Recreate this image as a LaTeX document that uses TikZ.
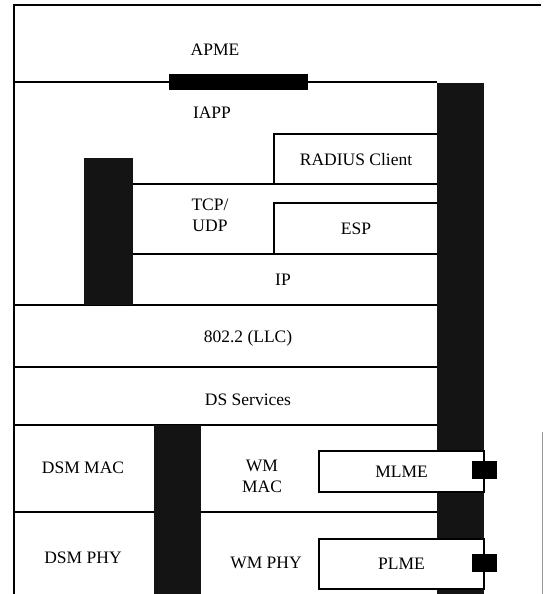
\documentclass[tikz,border=0pt]{standalone}
\usepackage{fontspec}
\setmainfont{Liberation Serif}
\tikzset{
  layer/.style={font=\fontsize{17.5}{21}\selectfont, align=center, inner sep=0pt},
  bus/.style={fill=black!92},
  tap/.style={fill=black, draw=none, inner sep=0pt, minimum width=25pt, minimum height=18pt},
  mgmtbox/.style={draw, fill=white, line width=1.2pt, minimum width=165pt, font=\fontsize{17.5}{21}\selectfont},
}
\begin{document}
\begin{tikzpicture}[x=1pt, y=-1pt, line width=1.2pt]
\useasboundingbox (0,0) rectangle (544,594);
% Frame
\draw (14,594) -- (14,5) -- (541,5);
\draw[black!40, line width=0.5pt] (542,432) -- (542,594);
% Layer boundaries
\draw (14,82) -- (437,82);
\draw (274,184) |- (437,134);
\draw (133,184) -- (437,184);
\draw (274,254) |- (437,203);
\draw (133,254) -- (437,254);
\draw (14,305) -- (437,305);
\draw (14,367) -- (437,367);
\draw (14,425) -- (437,425);
\draw (14,512) -- (437,512);
% Buses
\fill[bus] (437,83) rectangle (484,594);
\fill[bus] (84,158) rectangle (133,305);
\fill[bus] (154,425) rectangle (201,594);
\fill (169,74) rectangle (308,90);
% Layer names
\node[layer] (apme) at (215,50) {APME};
\node[layer] (iapp) at (212,113) {IAPP};
\node[layer] (radius) at (356,160) {RADIUS Client};
\node[layer] (tcpudp) at (210,215) {TCP/\\UDP};
\node[layer] (esp) at (356,229) {ESP};
\node[layer] (ip) at (283,280) {IP};
\node[layer] (llc) at (248,338) {802.2 (LLC)};
\node[layer] (dss) at (248,400) {DS Services};
\node[layer] (dsmmac) at (83,468) {DSM MAC};
\node[layer] (dsmphy) at (83,558) {DSM PHY};
\node[layer] (wmmac) at (262,476) {WM\\MAC};
\node[layer] (wmphy) at (266,563) {WM PHY};
% Management entities
\node[mgmtbox, minimum height=41pt] (mlme) at (401.5,471.5) {MLME};
\node[mgmtbox, minimum height=50pt] (plme) at (401.5,564) {PLME};
\node[tap] (mlmetap) at ([xshift=-0.5pt,yshift=1.5pt]mlme.east) {};
\node[tap] (plmetap) at ([xshift=-0.5pt,yshift=1.5pt]plme.east) {};
\end{tikzpicture}
\end{document}
